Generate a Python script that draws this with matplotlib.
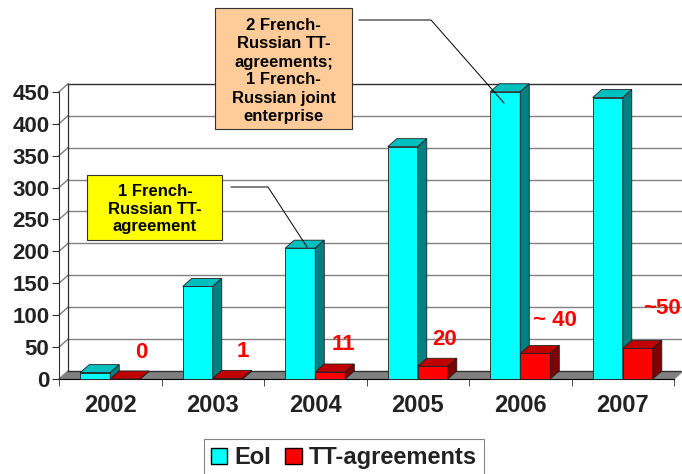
import numpy as np
import matplotlib
matplotlib.use("Agg")
import matplotlib.pyplot as plt
from matplotlib.patches import Polygon, Patch

plt.rcParams['font.family'] = ['Liberation Sans', 'DejaVu Sans']
plt.rcParams['font.weight'] = 'bold'

years = ['2002', '2003', '2004', '2005', '2006', '2007']
eoi = [10, 145, 205, 364, 450, 441]
tt = [0, 1, 11, 20, 40, 48]
tt_labels = ['0', '1', '11', '20', '~ 40', '~50']
# label offsets in pixels from the red bar top
lab_dx = [16, 15, 13, 12, 20, 24]
lab_dy = [27, 27, 27, 27, 33, 40]

yticks = np.arange(0, 451, 50)

W, H = 682, 474
fig = plt.figure(figsize=(W / 100, H / 100), dpi=100)
ax = fig.add_axes([59 / W, 95 / H, 615 / W, 300 / H])
ax.set_xlim(0, 6)
ax.set_ylim(0, 470)

w = 0.293     # bar width (category units)
dx = 0.088    # depth in x
dy = 12.5     # depth in y
grid_c = '#808080'
axis_c = '#303030'

# floor
ax.add_patch(Polygon([(0, 0), (6, 0), (6 + dx, dy), (dx, dy)], closed=True,
                     facecolor='#808080', edgecolor='none', zorder=1, clip_on=False))
# back wall grid + side diagonals
for v in yticks:
    c = axis_c if v in (0, 450) else grid_c
    ax.plot([dx, 6 + dx], [v + dy, v + dy], color=c, lw=1.0, zorder=1.5, clip_on=False)
    ax.plot([0, dx], [v, v + dy], color=grid_c, lw=1.0, zorder=1.5, clip_on=False)
ax.plot([dx, dx], [dy, 450 + dy], color=axis_c, lw=0.9, zorder=1.5, clip_on=False)
ax.plot([6, 6 + dx], [0, dy], color=grid_c, lw=0.9, zorder=1.5, clip_on=False)


def bar3d(x0, v, front, top, side, z):
    x1 = x0 + w
    ax.bar([x0], [v], width=w, align='edge', color=front, edgecolor='#202020',
           lw=0.6, zorder=z, clip_on=False)
    ax.add_patch(Polygon([(x0, v), (x1, v), (x1 + dx, v + dy), (x0 + dx, v + dy)],
                         closed=True, facecolor=top, edgecolor='#202020', lw=0.6,
                         zorder=z, clip_on=False))
    ax.add_patch(Polygon([(x1, 0), (x1 + dx, dy), (x1 + dx, v + dy), (x1, v)],
                         closed=True, facecolor=side, edgecolor='#202020', lw=0.6,
                         zorder=z, clip_on=False))


centers = np.arange(len(years)) + 0.5
for i, c in enumerate(centers):
    bar3d(c - w, eoi[i], '#00FFFF', '#00BFBF', '#008080', 3 + i * 0.1)
    bar3d(c, tt[i], '#FF0000', '#C00000', '#800000', 3.05 + i * 0.1)
    ax.annotate(tt_labels[i], xy=(c + w / 2, tt[i]), xytext=(lab_dx[i], lab_dy[i]),
                textcoords='offset pixels', ha='center', va='center',
                color='#FF0000', fontsize=16, fontweight='bold', zorder=10,
                annotation_clip=False)

# axes
for s in ['top', 'right']:
    ax.spines[s].set_visible(False)
ax.spines['left'].set_bounds(0, 450)
ax.spines['left'].set_color(axis_c)
ax.spines['bottom'].set_bounds(0, 6)
ax.spines['bottom'].set_color('black')
ax.spines['bottom'].set_zorder(2)
ax.set_yticks(yticks)
ax.set_yticklabels([str(v) for v in yticks])
ax.tick_params(axis='y', length=5, pad=2, labelsize=16, colors='#222222')
ax.tick_params(axis='y', color=axis_c)
ax.set_xticks(centers)
ax.set_xticklabels(years)
ax.set_xticks(np.arange(0, 7), minor=True)
ax.tick_params(axis='x', which='major', length=0, pad=11, labelsize=17, colors='#222222')
ax.tick_params(axis='x', which='minor', length=5, color=axis_c)


def fx(x):
    return x / W


def fy(y):
    return 1 - y / H


# yellow callout
fig.text(fx(155), fy(209), '1 French-\nRussian TT-\nagreement', ha='center', va='center',
         fontsize=12, fontweight='bold', linespacing=1.17, color='black', zorder=20)
fig.patches.append(plt.Rectangle((fx(87), fy(240)), fx(135), 65 / H,
                                 transform=fig.transFigure, facecolor='#FFFF00',
                                 edgecolor='#333333', lw=0.8, zorder=15))
fig.lines.append(plt.Line2D([fx(231), fx(268), fx(307)], [fy(187), fy(187), fy(247)],
                            transform=fig.transFigure, color='black', lw=0.7, zorder=15))

# orange callout
fig.text(fx(283.5), fy(71), '2 French-\nRussian TT-\nagreements;\n1 French-\nRussian joint\nenterprise',
         ha='center', va='center', fontsize=12, fontweight='bold', linespacing=1.25,
         color='black', zorder=20)
fig.patches.append(plt.Rectangle((fx(215), fy(129)), fx(137), 121 / H,
                                 transform=fig.transFigure, facecolor='#FFCC99',
                                 edgecolor='#333333', lw=0.8, zorder=15))
fig.lines.append(plt.Line2D([fx(359), fx(431), fx(504)], [fy(20), fy(20), fy(103)],
                            transform=fig.transFigure, color='black', lw=0.7, zorder=15))

handles = [Patch(facecolor='#00FFFF', edgecolor='black', label='EoI'),
           Patch(facecolor='#FF0000', edgecolor='black', label='TT-agreements')]
leg = fig.legend(handles=handles, loc='upper center', bbox_to_anchor=(fx(344), fy(439)),
                 ncol=2, fontsize=17, frameon=True, fancybox=False, handlelength=0.7,
                 handleheight=0.7, handletextpad=0.3, columnspacing=0.6,
                 borderpad=0.3, borderaxespad=0)
leg.get_frame().set_edgecolor('#666666')
leg.get_frame().set_linewidth(0.8)
for t in leg.get_texts():
    t.set_fontweight('bold')
    t.set_color('#222222')

fig.savefig('out.png', dpi=100)
